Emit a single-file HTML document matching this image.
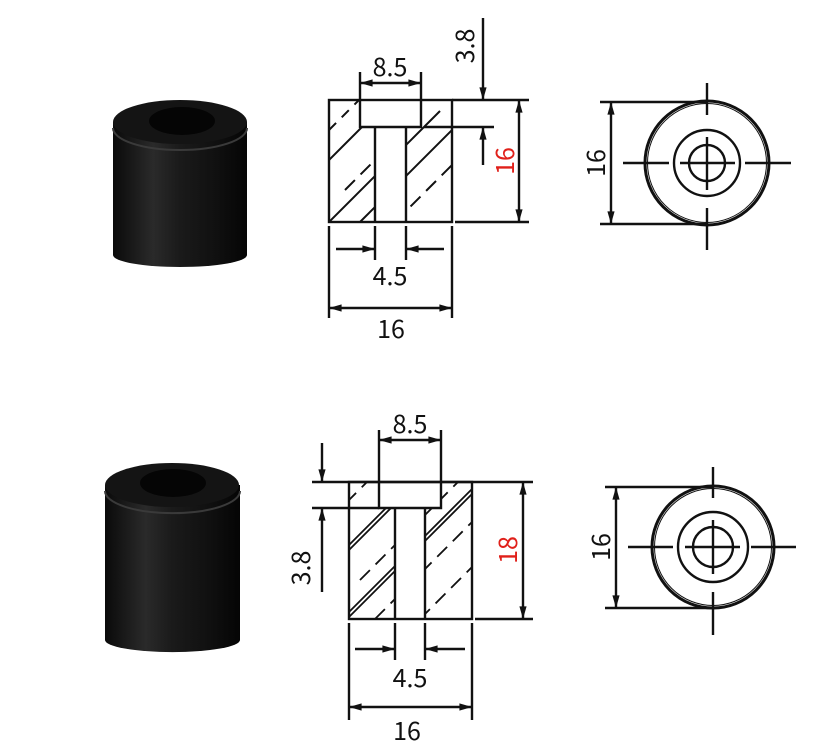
<!DOCTYPE html>
<html><head><meta charset="utf-8"><style>
html,body{margin:0;padding:0;background:#fff;}
svg{display:block;}
text{font-family:"Noto Sans CJK SC","DejaVu Sans","Liberation Sans",sans-serif;font-size:25px;fill:#111;}
.r{fill:#e0201a;}
</style></head><body>
<svg width="822" height="750" viewBox="0 0 822 750" xmlns="http://www.w3.org/2000/svg">
<defs>
<marker id="a" viewBox="0 0 14 10" refX="14" refY="5" markerWidth="14" markerHeight="9" orient="auto-start-reverse" markerUnits="userSpaceOnUse"><path d="M0,1 L14,5 L0,9 z" fill="#111"/></marker>
<linearGradient id="cyl" x1="0" x2="1">
<stop offset="0" stop-color="#0a0a0a"/><stop offset="0.3" stop-color="#2a2a2a"/><stop offset="0.5" stop-color="#1a1a1a"/><stop offset="0.75" stop-color="#111"/><stop offset="1" stop-color="#050505"/></linearGradient>
<clipPath id="c1"><path d="M329,100 H360 V127 H375 V222 H329 Z M406,127 H421 V100 H452 V222 H406 Z"/></clipPath>
<clipPath id="c2"><path d="M349,482 H379 V508 H395 V619 H349 Z M425,508 H441 V482 H472 V619 H425 Z"/></clipPath>
</defs>

<g>
<path d="M113,122 V255 A67,12 0 0 0 247,255 V122 Z" fill="url(#cyl)"/>
<ellipse cx="180" cy="122" rx="67" ry="22" fill="#141414"/>
<path d="M113,128 A67,22 0 0 0 247,128" fill="none" stroke="#3a3a3a" stroke-width="2"/>
<ellipse cx="182" cy="121" rx="33" ry="14" fill="#050505"/>
</g>
<g>
<path d="M105,485 V640 A67,12 0 0 0 240,640 V485 Z" fill="url(#cyl)"/>
<ellipse cx="172" cy="485" rx="67" ry="22" fill="#141414"/>
<path d="M105,491 A67,22 0 0 0 240,491" fill="none" stroke="#3a3a3a" stroke-width="2"/>
<ellipse cx="173" cy="483" rx="33" ry="14" fill="#050505"/>
</g>

<g stroke="#111" stroke-width="2.4" fill="none">
<g clip-path="url(#c1)" stroke-width="2">
<line x1="329" y1="160" x2="380" y2="109"/>
<line x1="329" y1="222" x2="440" y2="111"/>
<line x1="360" y1="222" x2="470" y2="112"/>
<line x1="345" y1="190" x2="400" y2="135" stroke-dasharray="14,8"/>
<line x1="395" y1="222" x2="470" y2="147" stroke-dasharray="14,8"/>
<line x1="329" y1="130" x2="360" y2="99" stroke-dasharray="10,8"/>
</g>
<rect x="329" y="100" width="123" height="122"/>
<path d="M360,100 V127 H421 V100"/>
<line x1="375" y1="127" x2="375" y2="222"/>
<line x1="406" y1="127" x2="406" y2="222"/>
<line x1="452" y1="100" x2="529" y2="100"/>
<line x1="424" y1="127" x2="494" y2="127"/>
<line x1="455" y1="222" x2="529" y2="222"/>
<line x1="360" y1="72" x2="360" y2="100"/>
<line x1="421" y1="72" x2="421" y2="100"/>
<line x1="360" y1="83" x2="421" y2="83" marker-start="url(#a)" marker-end="url(#a)"/>
<line x1="483" y1="18" x2="483" y2="100" marker-end="url(#a)"/>
<line x1="483" y1="165" x2="483" y2="127" marker-end="url(#a)"/>
<line x1="519" y1="100" x2="519" y2="222" marker-start="url(#a)" marker-end="url(#a)"/>
<line x1="329" y1="226" x2="329" y2="318"/>
<line x1="452" y1="226" x2="452" y2="318"/>
<line x1="375" y1="226" x2="375" y2="260"/>
<line x1="406" y1="226" x2="406" y2="260"/>
<line x1="336" y1="249" x2="375" y2="249" marker-end="url(#a)"/>
<line x1="444" y1="249" x2="406" y2="249" marker-end="url(#a)"/>
<line x1="329" y1="308" x2="452" y2="308" marker-start="url(#a)" marker-end="url(#a)"/>

<g clip-path="url(#c2)" stroke-width="1.8">
<line x1="349" y1="545" x2="412" y2="482"/>
<line x1="349" y1="550" x2="416" y2="483"/>
<line x1="349" y1="612" x2="480" y2="481"/>
<line x1="349" y1="617" x2="484" y2="482"/>
<line x1="375" y1="619" x2="490" y2="504" stroke-dasharray="14,8"/>
<line x1="360" y1="580" x2="460" y2="480" stroke-dasharray="14,8"/>
<line x1="420" y1="619" x2="490" y2="549" stroke-dasharray="14,8"/>
<line x1="349" y1="500" x2="370" y2="479" stroke-dasharray="10,8"/>
</g>
<rect x="349" y="482" width="123" height="137"/>
<path d="M379,482 V508 H441 V482"/>
<line x1="395" y1="508" x2="395" y2="619"/>
<line x1="425" y1="508" x2="425" y2="619"/>
<line x1="312" y1="482" x2="533" y2="482"/>
<line x1="312" y1="508" x2="379" y2="508"/>
<line x1="475" y1="619" x2="533" y2="619"/>
<line x1="379" y1="430" x2="379" y2="482"/>
<line x1="441" y1="430" x2="441" y2="482"/>
<line x1="379" y1="440" x2="441" y2="440" marker-start="url(#a)" marker-end="url(#a)"/>
<line x1="322" y1="443" x2="322" y2="482" marker-end="url(#a)"/>
<line x1="322" y1="592" x2="322" y2="508" marker-end="url(#a)"/>
<line x1="523" y1="482" x2="523" y2="619" marker-start="url(#a)" marker-end="url(#a)"/>
<line x1="349" y1="623" x2="349" y2="720"/>
<line x1="472" y1="623" x2="472" y2="720"/>
<line x1="395" y1="623" x2="395" y2="660"/>
<line x1="425" y1="623" x2="425" y2="660"/>
<line x1="355" y1="649" x2="395" y2="649" marker-end="url(#a)"/>
<line x1="465" y1="649" x2="425" y2="649" marker-end="url(#a)"/>
<line x1="349" y1="707" x2="472" y2="707" marker-start="url(#a)" marker-end="url(#a)"/>

<circle cx="707" cy="163" r="62" stroke-width="3"/>
<circle cx="707" cy="163" r="59.5" stroke-width="1"/>
<circle cx="707" cy="163" r="33"/>
<circle cx="707" cy="163" r="18"/>
<line x1="623" y1="163" x2="669" y2="163"/>
<line x1="680" y1="163" x2="735" y2="163"/>
<line x1="745" y1="163" x2="791" y2="163"/>
<line x1="707" y1="83" x2="707" y2="115"/>
<line x1="707" y1="137" x2="707" y2="190"/>
<line x1="707" y1="208" x2="707" y2="250"/>
<line x1="600" y1="102" x2="707" y2="102"/>
<line x1="600" y1="224" x2="707" y2="224"/>
<line x1="611" y1="102" x2="611" y2="224" marker-start="url(#a)" marker-end="url(#a)"/>

<circle cx="713" cy="547" r="61" stroke-width="3"/>
<circle cx="713" cy="547" r="58.5" stroke-width="1"/>
<circle cx="713" cy="547" r="35"/>
<circle cx="713" cy="547" r="20"/>
<line x1="628" y1="547" x2="673" y2="547"/>
<line x1="685" y1="547" x2="740" y2="547"/>
<line x1="751" y1="547" x2="796" y2="547"/>
<line x1="713" y1="467" x2="713" y2="498"/>
<line x1="713" y1="520" x2="713" y2="574"/>
<line x1="713" y1="592" x2="713" y2="635"/>
<line x1="605" y1="487" x2="713" y2="487"/>
<line x1="605" y1="608" x2="713" y2="608"/>
<line x1="616" y1="487" x2="616" y2="608" marker-start="url(#a)" marker-end="url(#a)"/>
</g>

<text x="390" y="76" text-anchor="middle">8.5</text>
<text x="390" y="285" text-anchor="middle">4.5</text>
<text x="391" y="338" text-anchor="middle">16</text>
<text transform="translate(474,46) rotate(-90)" text-anchor="middle">3.8</text>
<text class="r" transform="translate(514,161) rotate(-90)" text-anchor="middle">16</text>
<text transform="translate(605,163) rotate(-90)" text-anchor="middle">16</text>

<text x="410" y="433" text-anchor="middle">8.5</text>
<text x="410" y="687" text-anchor="middle">4.5</text>
<text x="407" y="740" text-anchor="middle">16</text>
<text transform="translate(310,568) rotate(-90)" text-anchor="middle">3.8</text>
<text class="r" transform="translate(517,550) rotate(-90)" text-anchor="middle">18</text>
<text transform="translate(610,547) rotate(-90)" text-anchor="middle">16</text>
</svg>
</body></html>
